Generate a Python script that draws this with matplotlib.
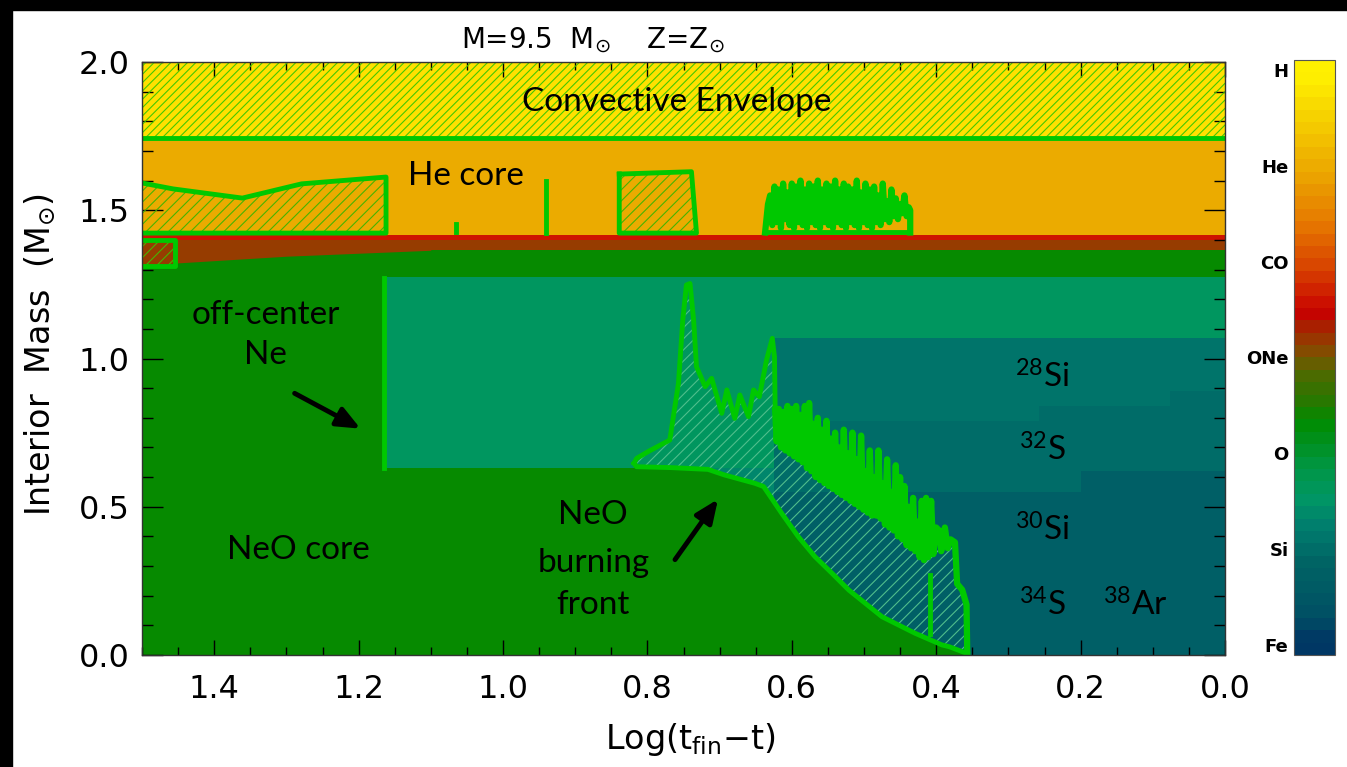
import numpy as np
import matplotlib
matplotlib.use("Agg")
import matplotlib.pyplot as plt
from matplotlib.colors import LinearSegmentedColormap, Normalize
from matplotlib.cm import ScalarMappable
from matplotlib.patches import Rectangle
from matplotlib.ticker import MultipleLocator

plt.rcParams['font.family'] = ['Lato', 'DejaVu Sans']
plt.rcParams['mathtext.fontset'] = 'custom'
plt.rcParams['mathtext.rm'] = 'Lato'
plt.rcParams['mathtext.it'] = 'Lato'
plt.rcParams['hatch.linewidth'] = 0.8

# --- Farbskala (Zusammensetzung), unten -> oben
comp_labels = ['Fe', 'Si', 'O', 'ONe', 'CO', 'He', 'H']
comp_values = [0, 1, 2, 3, 4, 5, 6]
cbar_nodes = [0.0, 0.26, 0.82, 1.2, 1.5, 1.81, 2.32, 2.54, 2.84, 2.97, 3.10, 3.31, 3.48, 3.94, 4.43, 4.95, 5.5, 6.0]
cbar_colors = ['#003764', '#005064', '#006464', '#007d6e', '#009664', '#009646', '#008c00', '#287800',
               '#506900', '#6e5a00', '#8c4600', '#a52300', '#c80000', '#d74100', '#e67800', '#eba500',
               '#f5cd00', '#fff000']

# --- Hintergrundzonen: log(t_fin-t) links/rechts, Masse unten/oben, Farbe
zone_left = [1.5, 1.5, 1.5, 1.5, 1.5, 1.165, 0.767, 0.624, 0.624, 0.200, 0.624, 0.257, 0.076]
zone_right = [0.0, 0.0, 0.0, 0.0, 0.0, 0.0, 0.624, 0.0, 0.200, 0.0, 0.257, 0.076, 0.0]
zone_bottom = [0.0, 1.365, 1.400, 1.418, 1.745, 0.63, 0.0, 0.0, 0.55, 0.62, 0.79, 0.84, 0.89]
zone_top = [1.37, 1.400, 1.418, 1.745, 2.0, 1.275, 0.63, 1.07, 1.07, 1.07, 1.07, 1.07, 1.07]
zone_color = ['#068a00', '#963c00', '#cd1400', '#ebab00', '#ffe100', '#00965f', '#00866c',
              '#005f66', '#006c68', '#006c68', '#00746a', '#00746a', '#00746a']

# brauner Keil links unter der He-Schale
taper_x = [1.5, 1.40, 1.30, 1.20, 1.10]
taper_bottom = [1.315, 1.33, 1.345, 1.355, 1.365]

# --- NeO-Brennfront (untere Kante) und obere Kante der Konvektionszone
front_x = [0.357, 0.382, 0.392, 0.429, 0.452, 0.475, 0.498, 0.521, 0.544, 0.568, 0.591, 0.614, 0.639,
           0.651, 0.693, 0.716, 0.767, 0.815, 0.8185]
front_y = [0.005, 0.028, 0.034, 0.073, 0.101, 0.129, 0.174, 0.219, 0.275, 0.332, 0.399, 0.478, 0.568,
           0.579, 0.607, 0.626, 0.632, 0.635, 0.6465]

upper_x = [0.8185, 0.815, 0.799, 0.769, 0.757, 0.751, 0.746, 0.741, 0.736, 0.732, 0.720, 0.711, 0.697,
           0.690, 0.679, 0.672, 0.660, 0.653, 0.645, 0.635, 0.627, 0.624, 0.623]
upper_y = [0.6465, 0.663, 0.686, 0.725, 0.916, 1.13, 1.248, 1.253, 1.13, 0.972, 0.905, 0.933, 0.815,
           0.894, 0.798, 0.877, 0.804, 0.894, 0.871, 0.995, 1.068, 1.006, 0.826]

# gezackter Teil der oberen Kante (Paare x, m)
jagged = [(0.621, 0.72), (0.618, 0.83), (0.615, 0.70), (0.612, 0.82), (0.609, 0.69), (0.606, 0.84),
          (0.603, 0.68), (0.600, 0.83), (0.597, 0.67), (0.594, 0.84), (0.591, 0.66), (0.588, 0.81),
          (0.585, 0.65), (0.582, 0.84), (0.579, 0.63), (0.576, 0.85), (0.573, 0.62), (0.570, 0.78),
          (0.567, 0.60), (0.564, 0.80), (0.561, 0.59), (0.558, 0.76), (0.555, 0.58), (0.552, 0.79),
          (0.549, 0.57), (0.546, 0.73), (0.543, 0.56), (0.540, 0.75), (0.537, 0.55), (0.534, 0.70),
          (0.531, 0.54), (0.528, 0.76), (0.525, 0.53), (0.522, 0.68), (0.519, 0.52), (0.516, 0.75),
          (0.513, 0.51), (0.510, 0.66), (0.507, 0.50), (0.504, 0.74), (0.501, 0.49), (0.498, 0.62),
          (0.495, 0.48), (0.492, 0.69), (0.489, 0.47), (0.486, 0.60), (0.483, 0.47), (0.480, 0.69),
          (0.477, 0.46), (0.474, 0.58), (0.471, 0.44), (0.468, 0.66), (0.465, 0.43), (0.462, 0.55),
          (0.459, 0.42), (0.456, 0.64), (0.453, 0.40), (0.450, 0.60), (0.447, 0.39), (0.444, 0.57),
          (0.441, 0.37), (0.438, 0.50), (0.435, 0.36), (0.432, 0.53), (0.429, 0.35), (0.426, 0.45),
          (0.423, 0.33), (0.420, 0.52), (0.417, 0.32), (0.414, 0.53), (0.411, 0.33), (0.407, 0.52),
          (0.404, 0.34), (0.400, 0.43), (0.396, 0.42), (0.393, 0.35), (0.388, 0.43), (0.384, 0.36),
          (0.380, 0.39), (0.374, 0.38), (0.371, 0.24), (0.364, 0.22), (0.358, 0.17), (0.357, 0.005)]

# Konvektionszonen in der He-Schale
he_left_x = [1.5, 1.457, 1.361, 1.279, 1.162, 1.162, 1.5]
he_left_y = [1.592, 1.572, 1.541, 1.589, 1.612, 1.423, 1.423]
he_box_x = [0.839, 0.739, 0.732, 0.839, 0.839]
he_box_y = [1.622, 1.630, 1.423, 1.423, 1.622]
small_box_x = [1.5, 1.454, 1.454, 1.5]
small_box_y = [1.40, 1.40, 1.312, 1.312]
he_noise = [(0.637, 1.425), (0.633, 1.52), (0.630, 1.55), (0.627, 1.45), (0.624, 1.58), (0.621, 1.46),
            (0.618, 1.57), (0.615, 1.44), (0.612, 1.59), (0.609, 1.47), (0.606, 1.56), (0.603, 1.45),
            (0.600, 1.59), (0.597, 1.44), (0.594, 1.58), (0.591, 1.46), (0.588, 1.60), (0.585, 1.45),
            (0.582, 1.57), (0.579, 1.44), (0.576, 1.59), (0.573, 1.46), (0.570, 1.58), (0.567, 1.45),
            (0.564, 1.60), (0.561, 1.44), (0.558, 1.57), (0.555, 1.46), (0.552, 1.59), (0.549, 1.45),
            (0.546, 1.58), (0.543, 1.44), (0.540, 1.60), (0.537, 1.46), (0.534, 1.57), (0.531, 1.45),
            (0.528, 1.59), (0.525, 1.44), (0.522, 1.58), (0.519, 1.46), (0.516, 1.57), (0.513, 1.45),
            (0.510, 1.60), (0.507, 1.44), (0.504, 1.56), (0.501, 1.46), (0.498, 1.59), (0.495, 1.45),
            (0.492, 1.57), (0.489, 1.44), (0.486, 1.58), (0.483, 1.46), (0.480, 1.55), (0.477, 1.45),
            (0.474, 1.59), (0.471, 1.47), (0.468, 1.53), (0.465, 1.46), (0.462, 1.57), (0.459, 1.48),
            (0.456, 1.54), (0.453, 1.47), (0.450, 1.52), (0.447, 1.49), (0.444, 1.55), (0.441, 1.48),
            (0.438, 1.51), (0.436, 1.50), (0.436, 1.425)]

xticks = [1.4, 1.2, 1.0, 0.8, 0.6, 0.4, 0.2, 0.0]
xtick_labels = ['1.4', '1.2', '1.0', '0.8', '0.6', '0.4', '0.2', '0.0']
yticks = [0.0, 0.5, 1.0, 1.5, 2.0]
ytick_labels = ['0.0', '0.5', '1.0', '1.5', '2.0']

LINE = '#00c800'

fig = plt.figure(figsize=(13.47, 7.67), dpi=100)
fig.patches.append(Rectangle((0, 1 - 10 / 767), 1, 10 / 767, transform=fig.transFigure, color='black'))
fig.patches.append(Rectangle((0, 0), 12 / 1347, 1, transform=fig.transFigure, color='black'))

ax = fig.add_axes([142 / 1347, 112 / 767, 1083 / 1347, 593 / 767])
cax = fig.add_axes([1294 / 1347, 112 / 767, 41 / 1347, 595 / 767])

# Hintergrund
for l, r, b, t, c in zip(zone_left, zone_right, zone_bottom, zone_top, zone_color):
    ax.fill_between([l, r], b, t, color=c, lw=0, zorder=1)
ax.fill_between(taper_x, taper_bottom, 1.37, color='#963c00', lw=0, zorder=1)
ax.fill_between(front_x, 0, front_y, color='#068a00', lw=0, zorder=2)

# Konvektive Hülle
ax.fill_between([1.5, 0.0], 1.745, 2.0, facecolor='none', edgecolor='#46c800', hatch='////', lw=0, zorder=3)
ax.plot([1.5, 0.0], [1.745, 1.745], color=LINE, lw=3.5, zorder=5)

# He-Schale
ax.fill(he_left_x, he_left_y, facecolor='none', edgecolor='#46b400', hatch='///', lw=0, zorder=3)
ax.plot(he_left_x, he_left_y, color=LINE, lw=3.5, zorder=5)
ax.fill(he_box_x, he_box_y, facecolor='none', edgecolor='#46b400', hatch='///', lw=0, zorder=3)
ax.plot(he_box_x, he_box_y, color=LINE, lw=3.5, zorder=5)
ax.fill(small_box_x, small_box_y, facecolor='none', edgecolor='#46b400', hatch='///', lw=0, zorder=3)
ax.plot(small_box_x, small_box_y, color=LINE, lw=3.5, zorder=5)
ax.plot([1.065, 1.065], [1.425, 1.455], color=LINE, lw=3.5, zorder=5)
ax.plot([0.94, 0.94], [1.423, 1.60], color=LINE, lw=3.5, zorder=5)
hn_x, hn_y = np.array(he_noise).T
ax.plot(hn_x, hn_y, color=LINE, lw=4.5, zorder=5)
ax.plot([0.637, 0.436], [1.425, 1.425], color=LINE, lw=3.5, zorder=5)

# Off-center Ne
ax.plot([1.165, 1.165], [0.63, 1.27], color=LINE, lw=3.5, zorder=5)

# Brennfront
jag_x, jag_y = np.array(jagged).T
top_x = np.concatenate([upper_x, jag_x])
top_y = np.concatenate([upper_y, jag_y])
poly_x = np.concatenate([top_x, front_x[1:]])
poly_y = np.concatenate([top_y, front_y[1:]])
ax.fill(poly_x, poly_y, facecolor='none', edgecolor='#50be8c', hatch='///', lw=0, zorder=3)
ax.plot(upper_x, upper_y, color=LINE, lw=3.5, zorder=5)
ax.plot(np.concatenate([upper_x[-1:], jag_x]), np.concatenate([upper_y[-1:], jag_y]), color=LINE, lw=4.5, zorder=5)
ax.plot(front_x, front_y, color=LINE, lw=3.5, zorder=5)
ax.plot([0.409, 0.409], [0.07, 0.27], color=LINE, lw=3.5, zorder=5)

# Beschriftungen
txt = dict(ha='center', va='center', fontsize=24, zorder=6)
ax.text(0.76, 1.865, 'Convective Envelope', **txt)
ax.text(1.051, 1.615, 'He core', **txt)
ax.text(1.329, 1.147, 'off-center', **txt)
ax.text(1.329, 1.012, 'Ne', **txt)
ax.text(1.283, 0.354, 'NeO core', **txt)
ax.text(0.875, 0.472, 'NeO', **txt)
ax.text(0.875, 0.31, 'burning', **txt)
ax.text(0.875, 0.169, 'front', **txt)
ax.text(0.253, 0.938, r'$^{28}$Si', **txt)
ax.text(0.253, 0.691, r'$^{32}$S', **txt)
ax.text(0.253, 0.42, r'$^{30}$Si', **txt)
ax.text(0.253, 0.169, r'$^{34}$S', **txt)
ax.text(0.124, 0.169, r'$^{38}$Ar', **txt)

arrow = dict(arrowstyle='-|>,head_length=0.7,head_width=0.3', color='black', lw=3.5, mutation_scale=20)
ax.annotate('', xy=(1.194, 0.759), xytext=(1.292, 0.887), arrowprops=arrow, zorder=6)
ax.annotate('', xy=(0.70, 0.533), xytext=(0.764, 0.314), arrowprops=arrow, zorder=6)

# Achsen
ax.set_xlim(1.5, 0.0)
ax.set_ylim(0.0, 2.0)
ax.set_xticks(xticks)
ax.set_xticklabels(xtick_labels, fontfamily=['DejaVu Sans'], fontsize=23)
ax.set_yticks(yticks)
ax.set_yticklabels(ytick_labels, fontfamily=['DejaVu Sans'], fontsize=23)
ax.xaxis.set_minor_locator(MultipleLocator(0.05))
ax.yaxis.set_minor_locator(MultipleLocator(0.1))
ax.tick_params(axis='x', which='major', direction='in', top=True, bottom=True, length=11, width=1, pad=14)
ax.tick_params(axis='x', which='minor', direction='in', top=True, bottom=True, length=6, width=1)
ax.tick_params(axis='y', which='major', direction='in', left=True, right=True, length=15, width=1, pad=9)
ax.tick_params(axis='y', which='minor', direction='in', left=True, right=True, length=8, width=1)
for s in ax.spines.values():
    s.set_linewidth(1)
    s.set_color('#333333')
    s.set_zorder(7)
ax.set_axisbelow(False)

lab = dict(fontfamily=['DejaVu Sans'], math_fontfamily='dejavusans', fontsize=24)
ax.set_xlabel(r'Log(t$_{\mathrm{fin}}$$-$t)', **lab)
ax.xaxis.set_label_coords(0.506, -0.112)
ax.set_ylabel(r'Interior  Mass  (M$_{\odot}$)', **lab)
ax.yaxis.set_label_coords(-0.078, 0.506)

fig.text(593 / 1347, 1 - 40 / 767, r'M=9.5  M$_{\odot}$    Z=Z$_{\odot}$', ha='center', va='center',
         fontfamily=['DejaVu Sans'], math_fontfamily='dejavusans', fontsize=20)

# Farbbalken
vmin, vmax = -0.1, 6.1
pos = [0.0] + [(v - vmin) / (vmax - vmin) for v in cbar_nodes] + [1.0]
cols = [cbar_colors[0]] + cbar_colors + [cbar_colors[-1]]
cmap = LinearSegmentedColormap.from_list('comp', list(zip(pos, cols)), N=48)
sm = ScalarMappable(norm=Normalize(vmin=vmin, vmax=vmax), cmap=cmap)
cb = fig.colorbar(sm, cax=cax)
cb.set_ticks(comp_values)
cb.set_ticklabels(comp_labels)
cax.yaxis.set_ticks_position('left')
cax.tick_params(length=0, labelsize=13, pad=4)
for t in cax.get_yticklabels():
    t.set_fontfamily(['DejaVu Sans'])
    t.set_fontweight('bold')
cb.outline.set_edgecolor('#555555')
cb.outline.set_linewidth(0.8)

fig.savefig('out.png', dpi=100)
